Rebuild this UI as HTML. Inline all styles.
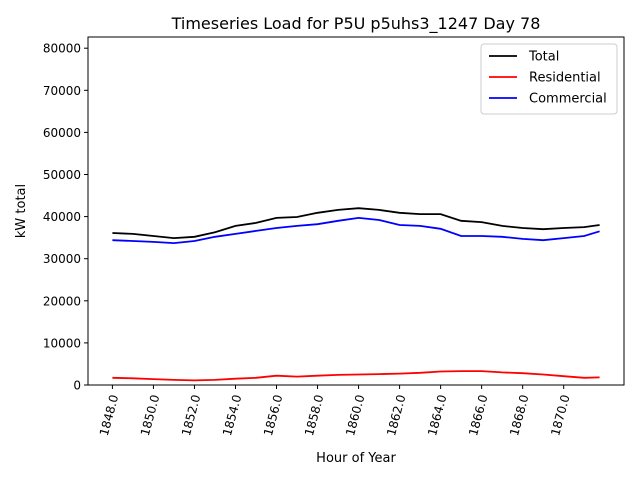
<!DOCTYPE html>
<html><head><meta charset="utf-8"><style>body{margin:0;background:#fff}svg{font-family:"DejaVu Sans","Liberation Sans",sans-serif}</style></head>
<body>
<svg id="c" width="640" height="480" xmlns="http://www.w3.org/2000/svg"></svg>
<script>
const hours=[1848,1849,1850,1851,1852,1853,1854,1855,1856,1857,1858,1859,1860,1861,1862,1863,1864,1865,1866,1867,1868,1869,1870,1871,1871.75];
const totalVals=[36100,35900,35400,34900,35200,36300,37800,38500,39700,39900,40900,41600,42000,41600,40900,40600,40600,39000,38700,37800,37300,37000,37300,37500,38000];
const commercialVals=[34400,34200,34000,33700,34200,35200,35900,36600,37300,37800,38200,39000,39700,39200,38000,37800,37100,35400,35400,35200,34700,34400,34900,35400,36500];
const residentialVals=[1700,1600,1400,1200,1100,1200,1500,1700,2200,2000,2200,2400,2500,2600,2700,2900,3200,3300,3300,3000,2800,2500,2100,1700,1800];
const xTicks=[1848,1850,1852,1854,1856,1858,1860,1862,1864,1866,1868,1870];
const yTicks=[0,10000,20000,30000,40000,50000,60000,70000,80000];
const NS="http://www.w3.org/2000/svg",svg=document.getElementById('c');
const L=88,R=624,T=37,B=385,xmin=1846.81,xmax=1872.94,ymax=82660;
const X=v=>L+(v-xmin)/(xmax-xmin)*(R-L), Y=v=>B-v/ymax*(B-T);
function mk(t,a,txt){const e=document.createElementNS(NS,t);for(const k in a)e.setAttribute(k,a[k]);if(txt!==undefined)e.textContent=txt;svg.appendChild(e);return e;}
let e=mk('text',{x:356,y:29,'text-anchor':'middle','font-size':16},'Timeseries Load for P5U p5uhs3_1247  Day 78');


function line(vals,col,name){const d=vals.map((v,i)=>(i?'L':'M')+X(hours[i]).toFixed(1)+','+Y(v).toFixed(1)).join('');const p=mk('path',{d:d,fill:'none',stroke:col,'stroke-width':1.8});

}
line(totalVals,'#000','total-line');line(residentialVals,'#f00','residential-line');line(commercialVals,'#00f','commercial-line');
e=mk('rect',{x:L,y:T,width:R-L,height:B-T,fill:'none',stroke:'#000','stroke-width':1});


xTicks.forEach(t=>{const x=X(t);mk('line',{x1:x,x2:x,y1:B,y2:B+4,stroke:'#000'});
const ax=x+6,ay=B+11;
const tx=mk('text',{x:ax,y:ay,'font-size':12,'text-anchor':'end',transform:`rotate(-75 ${ax} ${ay})`},t.toFixed(1));

});
yTicks.forEach(t=>{const y=Y(t);mk('line',{x1:L-4,x2:L,y1:y,y2:y,stroke:'#000'});
const tx=mk('text',{x:L-7,y:y+4.5,'font-size':12,'text-anchor':'end'},t);

});
e=mk('text',{x:356,y:462,'text-anchor':'middle','font-size':13},'Hour of Year');


e=mk('text',{x:25,y:211,'text-anchor':'middle','font-size':13,transform:'rotate(-90 25 211)'},'kW total');


e=mk('rect',{x:481,y:44,width:136,height:70,fill:'#fff',stroke:'#ccc',rx:3});


[['Total','#000'],['Residential','#f00'],['Commercial','#00f']].forEach((s,i)=>{const y=56+i*21;
mk('line',{x1:489,x2:517,y1:y,y2:y,stroke:s[1],'stroke-width':1.8});
const tx=mk('text',{x:529,y:y+4.5,'font-size':13},s[0]);

});
</script>
</body></html>
